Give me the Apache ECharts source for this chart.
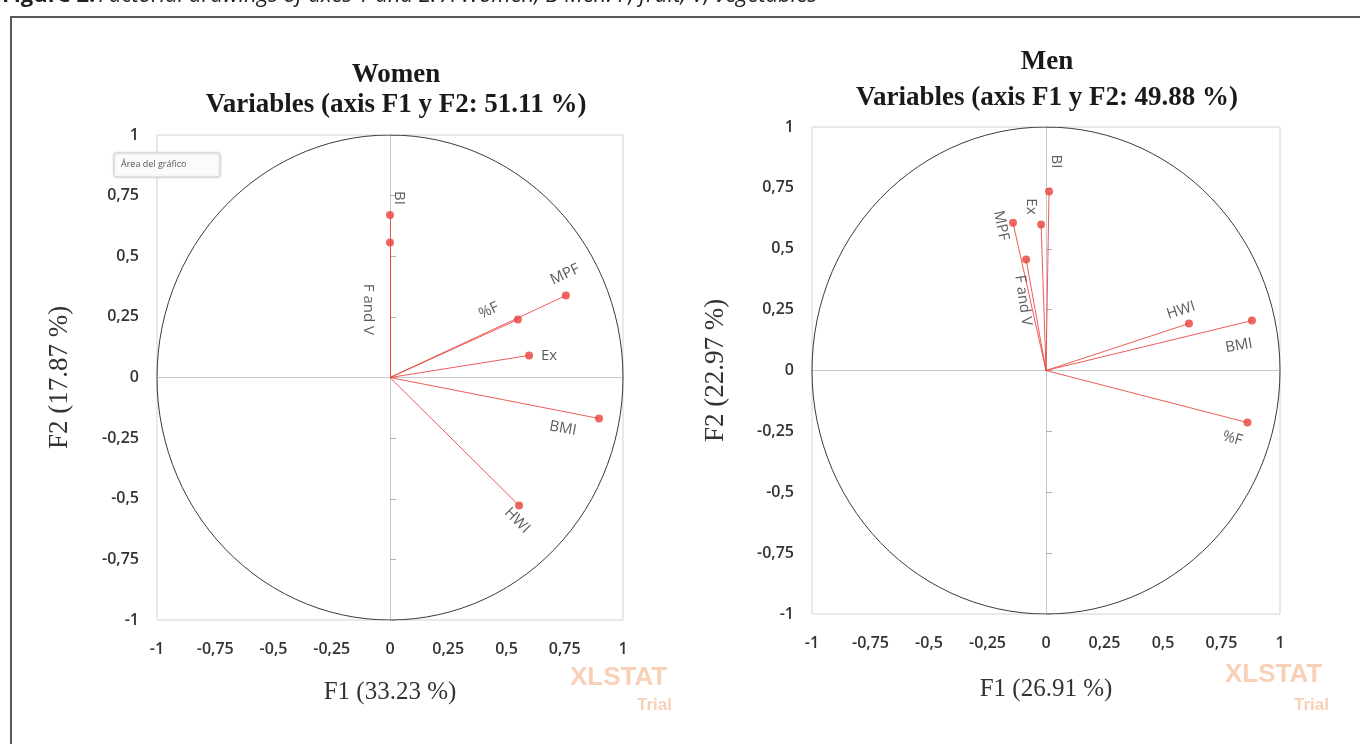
<!DOCTYPE html>
<html>
<head>
<meta charset="utf-8">
<script src="https://cdn.jsdelivr.net/npm/echarts@6/dist/echarts.min.js"></script>
<style>
  html, body { margin: 0; padding: 0; background: #fff; }
  #chart { width: 1360px; height: 744px; }
</style>
</head>
<body>
<div id="chart"></div>
<script>
// correlation circle data
const womenNames = ["BI", "F and V", "%F", "MPF", "Ex", "BMI", "HWI"];
const womenF1 = [0.0, 0.0, 0.549, 0.755, 0.597, 0.897, 0.554];
const womenF2 = [0.67, 0.557, 0.239, 0.338, 0.091, -0.169, -0.528];

const menNames = ["BI", "Ex", "MPF", "F and V", "HWI", "BMI", "%F"];
const menF1 = [0.013, -0.021, -0.141, -0.085, 0.611, 0.88, 0.861];
const menF2 = [0.735, 0.60, 0.607, 0.456, 0.193, 0.205, -0.214];

// label placement (pixel nudges from the point, rotation in degrees)
const womenLab = [
  { dx: 9, dy: -17, rot: -90 },
  { dx: -22, dy: 67, rot: -90 },
  { dx: -29, dy: -9, rot: 25 },
  { dx: -1, dy: -21, rot: 25 },
  { dx: 20, dy: 0, rot: 0 },
  { dx: -36, dy: 10, rot: -10 },
  { dx: -2, dy: 15, rot: -45 }
];
const menLab = [
  { dx: 7, dy: -30, rot: -90 },
  { dx: -10, dy: -18, rot: -90 },
  { dx: -12, dy: 3, rot: -78 },
  { dx: -3, dy: 41, rot: -82 },
  { dx: -8, dy: -13, rot: 18 },
  { dx: -13, dy: 25, rot: 10 },
  { dx: -15, dy: 16, rot: -15 }
];

const RED = "#e8413b";
const GREY = "#333333";
const SERIF = "'Liberation Serif', 'DejaVu Serif', serif";
const SANS = "'Open Sans', Lato, sans-serif";

// unit circle reference line
let circle = [];
for (let a = 0; a <= 360; a += 3) {
  circle.push([Math.cos(a * Math.PI / 180), Math.sin(a * Math.PI / 180)]);
}

function fmt(v) {
  return String(v).replace(".", ",");
}

function axesFor(gi, xName, yName, xGap, yGap) {
  return {
    x: [
      {
        gridIndex: gi, type: "value", min: -1, max: 1, interval: 0.25,
        position: "bottom",
        name: xName, nameLocation: "middle", nameGap: xGap,
        nameTextStyle: { fontFamily: SERIF, fontSize: 25, color: GREY },
        axisLine: { show: false }, axisTick: { show: false }, splitLine: { show: false },
        axisLabel: { formatter: fmt, color: GREY, fontFamily: SANS, fontSize: 16, fontWeight: 600, margin: 21 }
      },
      {
        gridIndex: gi, type: "value", min: -1, max: 1, interval: 0.25,
        axisLine: { show: true, onZero: true, lineStyle: { color: "#c8c8c8", width: 1 } },
        axisTick: { show: false }, axisLabel: { show: false }, splitLine: { show: false }
      }
    ],
    y: [
      {
        gridIndex: gi, type: "value", min: -1, max: 1, interval: 0.25,
        position: "left",
        name: yName, nameLocation: "middle", nameGap: yGap,
        nameTextStyle: { fontFamily: SERIF, fontSize: 27, color: GREY },
        axisLine: { show: false }, axisTick: { show: false }, splitLine: { show: false },
        axisLabel: { formatter: fmt, color: GREY, fontFamily: SANS, fontSize: 16, fontWeight: 600, margin: 18 }
      },
      {
        gridIndex: gi, type: "value", min: -1, max: 1, interval: 0.25,
        axisLine: { show: true, onZero: true, onZeroAxisIndex: gi * 2, lineStyle: { color: "#c8c8c8", width: 1 } },
        axisTick: { show: true, length: 6, lineStyle: { color: "#b0b0b0" } },
        axisLabel: { show: false }, splitLine: { show: false }
      }
    ]
  };
}

function seriesFor(gi, names, f1, f2, lab) {
  let pts = names.map((n, i) => ({ name: n, value: [f1[i], f2[i]] }));
  let vecs = names.map((n, i) => [{ coord: [0, 0] }, { coord: [f1[i], f2[i]] }]);
  return [
    {
      type: "line", xAxisIndex: gi * 2, yAxisIndex: gi * 2,
      data: circle, showSymbol: false, silent: true, smooth: false,
      lineStyle: { color: "#3a3a3a", width: 1 }, z: 3
    },
    {
      type: "scatter", xAxisIndex: gi * 2, yAxisIndex: gi * 2,
      data: pts, symbolSize: 8, itemStyle: { color: RED }, z: 5,
      label: {
        show: true, formatter: "{b}", color: GREY, fontFamily: SANS, fontSize: 15
      },
      labelLayout: function (p) {
        let c = lab[p.dataIndex];
        return {
          x: p.rect.x + p.rect.width / 2 + c.dx,
          y: p.rect.y + p.rect.height / 2 + c.dy,
          rotate: c.rot, align: "center", verticalAlign: "middle"
        };
      },
      markLine: {
        silent: true, symbol: "none", label: { show: false },
        lineStyle: { color: RED, width: 1, type: "solid", opacity: 0.85 },
        animation: false,
        data: vecs
      }
    }
  ];
}

const A = axesFor(0, "F1 (33.23 %)", "F2 (17.87 %)", 60, 84);
const B = axesFor(1, "F1 (26.91 %)", "F2 (22.97 %)", 63, 83);

const titleStyle = { fontFamily: SERIF, fontSize: 27, fontWeight: "bold", color: "#1a1a1a" };

const chart = echarts.init(document.getElementById("chart"));
chart.setOption({
  backgroundColor: "#fff",
  animation: false,
  title: [
    { text: "Women", left: 391, top: 57, textAlign: "center", textStyle: titleStyle },
    { text: "Variables (axis F1 y F2: 51.11 %)", left: 391, top: 87, textAlign: "center", textStyle: titleStyle },
    { text: "Men", left: 1042, top: 44, textAlign: "center", textStyle: titleStyle },
    { text: "Variables (axis F1 y F2: 49.88 %)", left: 1042, top: 80, textAlign: "center", textStyle: titleStyle }
  ],
  grid: [
    { left: 157, top: 135, width: 466, height: 485, show: true, borderColor: "#d4d4d4", borderWidth: 1, backgroundColor: "#fff" },
    { left: 812, top: 127, width: 468, height: 487, show: true, borderColor: "#d4d4d4", borderWidth: 1, backgroundColor: "#fff" }
  ],
  xAxis: A.x.concat(B.x),
  yAxis: A.y.concat(B.y),
  series: seriesFor(0, womenNames, womenF1, womenF2, womenLab)
    .concat(seriesFor(1, menNames, menF1, menF2, menLab)),
  graphic: [
    // page frame
    { type: "rect", shape: { x: 11, y: 17, width: 1400, height: 800 },
      style: { fill: null, stroke: "#5a5a5a", lineWidth: 2 }, z: 100, silent: true },
    // cut caption
    { type: "text", x: 2, y: -15, z: 100,
      style: {
        text: "{b|Figure 2.} {i|Factorial drawings of axes 1 and 2. A Women; B Men. F, fruit; V, vegetables}",
        rich: {
          b: { fontFamily: "'Open Sans', sans-serif", fontWeight: "bold", fontSize: 22, fill: "#222" },
          i: { fontFamily: "'Open Sans', sans-serif", fontStyle: "italic", fontSize: 22, fill: "#222" }
        }
      } },
    // excel chart-area tooltip
    { type: "rect", shape: { x: 114, y: 153, width: 106, height: 24, r: 2 }, z: 100,
      style: { fill: "#fbfbfb", stroke: "#d0d0d0", lineWidth: 1, shadowBlur: 3, shadowColor: "rgba(0,0,0,0.15)" } },
    { type: "text", x: 121, y: 160, z: 101,
      style: { text: "Área del gráfico", fontFamily: SANS, fontSize: 9, fill: "#555" } },
    // XLSTAT watermarks
    { type: "text", x: 570, y: 665, z: 100,
      style: { text: "XLSTAT", fontFamily: "'Liberation Sans', Arial, sans-serif", fontWeight: "bold", fontSize: 26, fill: "#f8d0b8" } },
    { type: "text", x: 672, y: 697, z: 100,
      style: { text: "Trial", align: "right", fontFamily: "'Liberation Sans', Arial, sans-serif", fontWeight: "bold", fontSize: 17, fill: "#f8d0b8" } },
    { type: "text", x: 1225, y: 662, z: 100,
      style: { text: "XLSTAT", fontFamily: "'Liberation Sans', Arial, sans-serif", fontWeight: "bold", fontSize: 26, fill: "#f8d0b8" } },
    { type: "text", x: 1329, y: 697, z: 100,
      style: { text: "Trial", align: "right", fontFamily: "'Liberation Sans', Arial, sans-serif", fontWeight: "bold", fontSize: 17, fill: "#f8d0b8" } }
  ]
});
</script>
</body>
</html>
